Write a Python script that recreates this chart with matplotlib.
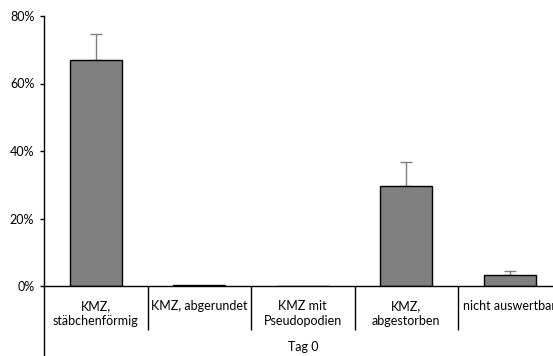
import matplotlib
matplotlib.use("Agg")
import matplotlib.pyplot as plt
from matplotlib.ticker import PercentFormatter

plt.rcParams['font.family'] = ['Lato', 'DejaVu Sans']

categories = ["KMZ,\nstäbchenförmig", "KMZ, abgerundet", "KMZ mit\nPseudopodien",
              "KMZ,\nabgestorben", "nicht auswertbar"]
values = [67.0, 0.2, 0.0, 29.7, 3.3]
errors = [7.8, 0.0, 0.0, 7.1, 1.2]
group_label = "Tag 0"

W, H = 553, 356
fig = plt.figure(figsize=(W / 100, H / 100), dpi=100)
# axes runs past the right edge, like the original (last label is cut off)
ax = fig.add_axes([44 / W, 70 / H, 517.5 / W, 270 / H])

x = list(range(len(categories)))
ax.bar(x, values, width=0.5, color='#808080', edgecolor='black', linewidth=1, zorder=2)
for xi, v, e in zip(x, values, errors):
    if e > 0:
        ax.errorbar(xi, v, yerr=[[0], [e]], fmt='none', ecolor='#7f7f7f',
                    elinewidth=1, capsize=4.5, capthick=1, zorder=1)

ax.set_xlim(-0.5, len(categories) - 0.5)
ax.set_ylim(0, 80)
ax.set_yticks([0, 20, 40, 60, 80])
ax.yaxis.set_major_formatter(PercentFormatter(decimals=0))
ax.tick_params(axis='y', direction='out', length=3, width=1, labelsize=9, pad=4)

for s in ['top', 'right']:
    ax.spines[s].set_visible(False)
for s in ['left', 'bottom']:
    ax.spines[s].set_linewidth(1)

# category dividers as long minor ticks
ax.set_xticks([])
ax.set_xticks([i + 0.5 for i in x[:-1]], minor=True)
ax.tick_params(axis='x', which='minor', direction='out', length=31.5, width=1)

for xi, lab in zip(x, categories):
    ax.text(xi, -4.2, lab, ha='center', va='top', fontsize=9, linespacing=1.25)

# left axis line continues down through the label area
ax.plot([-0.5, -0.5], [0, -26], color='black', lw=1, clip_on=False)
ax.text((len(categories) - 1) / 2, -18.1, group_label, ha='center', va='center', fontsize=9)

fig.savefig("out.png", dpi=100)
